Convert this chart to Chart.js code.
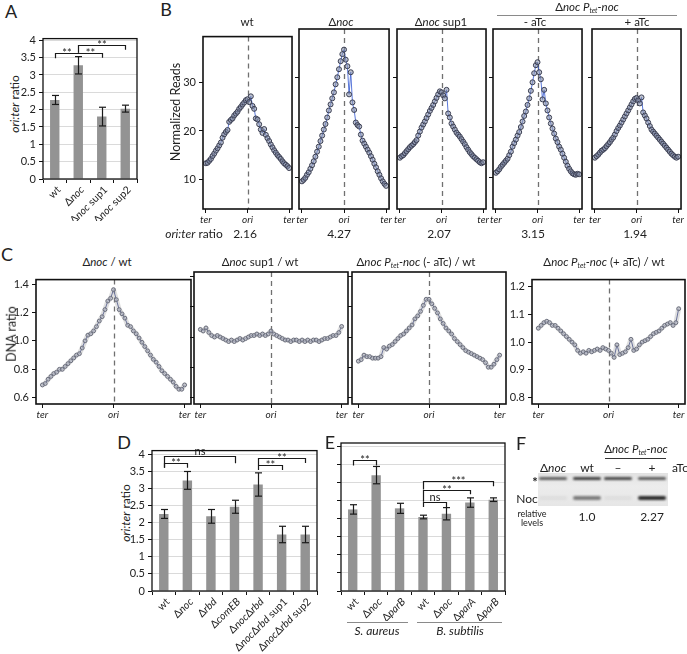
<!DOCTYPE html>
<html>
<head>
<meta charset="utf-8">
<script src="https://cdn.jsdelivr.net/npm/chart.js@4.4.1/dist/chart.umd.min.js"></script>
<style>
  body { margin: 0; background: #fff; }
  #fig { position: relative; width: 687px; height: 654px; overflow: hidden; font-family: Lato, 'Liberation Sans', Arial, sans-serif; color: #222; }
  #fig canvas { position: absolute; }
  .lbl { position: absolute; white-space: nowrap; line-height: 1; }
  .rule { position: absolute; height: 0; border-top: 1px solid #8a8a8a; }
  .band { position: absolute; border-radius: 2px; filter: blur(0.8px); }
  sub { font-size: 0.6em; vertical-align: -0.3em; }
</style>
</head>
<body>
<div id="fig"></div>
<script>
const FONT = "Lato, 'Liberation Sans', Arial, sans-serif";

// posicoes ao longo do cromossomo (ter -> ori -> ter)
const binPos = [0, 2, 4, 6, 8, 10, 12, 14, 16, 18, 20, 22, 24, 26, 28, 30, 32, 34, 36, 38, 40, 42, 44, 46, 48, 50,
    52, 54, 56, 58, 60, 62, 64, 66, 68, 70, 72, 74, 76, 78, 80, 82, 84, 86, 88, 90, 92, 94, 96, 98, 100];
const posTicks = [0, 50, 100];
const posTickText = ['ter', 'ori', 'ter'];

// painel B
const readsWt = [13.3, 13.4, 13.8, 14.2, 14.8, 15.3, 15.9, 16.4, 17.0, 17.6, 18.6, 19.3, 19.8, 20.2, 21.9, 22.3, 22.6, 23.2, 23.6, 24.0,
    24.6, 25.0, 25.5, 25.9, 26.4, 26.6, 26.0, 27.2, 25.2, 24.6, 22.6, 22.4, 21.4, 20.3, 19.6, 20.4, 19.2, 18.5, 17.9, 17.2,
    16.6, 16.0, 15.5, 15.0, 14.6, 14.2, 13.7, 13.3, 13.0, 12.7, 12.3];
const readsNoc = [9.3, 9.6, 10.0, 10.6, 11.1, 11.8, 12.5, 13.3, 14.2, 15.2, 16.2, 17.3, 18.4, 19.6, 20.7, 22.0, 23.4, 24.6, 25.8, 27.0,
    28.6, 30.0, 31.6, 33.2, 34.6, 35.5, 33.5, 32.2, 26.6, 31.0, 25.0, 23.5, 21.0, 20.5, 20.2, 18.6, 17.4, 16.8, 16.2, 15.6,
    15.0, 14.3, 13.6, 12.8, 12.1, 11.3, 10.6, 9.9, 9.3, 8.8, 8.4];
const readsSup1 = [14.0, 14.3, 14.5, 14.9, 15.3, 15.7, 16.1, 16.4, 16.7, 17.1, 17.5, 18.4, 19.2, 20.0, 20.6, 21.2, 21.9, 22.6, 23.3, 23.9,
    24.5, 25.2, 25.9, 26.6, 27.2, 27.0, 26.4, 25.8, 27.5, 22.8, 22.0, 20.8, 20.2, 19.6, 19.0, 18.6, 18.2, 17.7, 17.2, 16.7,
    16.1, 15.6, 15.1, 14.7, 14.3, 14.0, 13.7, 13.4, 13.1, 12.9, 13.1];
const readsMinusATc = [11.0, 11.3, 11.7, 12.2, 12.6, 13.0, 13.4, 13.8, 14.5, 15.2, 16.2, 16.9, 17.6, 18.4, 19.1, 20.1, 21.2, 22.3, 23.2, 24.5,
    25.8, 27.3, 29.0, 30.8, 32.4, 33.0, 31.0, 29.6, 25.6, 27.5, 24.8, 23.4, 22.0, 20.8, 19.8, 18.8, 17.8, 17.1, 16.2, 15.6,
    14.8, 14.0, 13.2, 12.4, 11.8, 11.3, 10.9, 10.7, 10.6, 10.8, 10.7];
const readsPlusATc = [14.0, 14.3, 14.6, 15.0, 15.4, 15.6, 15.9, 16.3, 16.7, 17.1, 17.6, 18.0, 18.6, 19.3, 19.9, 20.4, 21.0, 21.6, 22.2, 22.8,
    23.4, 24.0, 24.6, 25.2, 25.7, 25.9, 25.4, 24.8, 26.0, 23.0, 22.4, 21.8, 21.0, 20.3, 19.6, 19.2, 18.8, 18.4, 18.0, 17.6,
    17.2, 16.8, 16.4, 16.0, 15.6, 15.2, 14.8, 14.5, 14.2, 14.0, 14.2];
const readsTicks = [10, 20, 30];
const readsTitles = ['wt', 'Δ<i>noc</i>', 'Δ<i>noc</i> sup1', '- aTc', '+ aTc'];
const oriTerRatios = ['2.16', '4.27', '2.07', '3.15', '1.94'];

// painel C
const ratioNocWt = [0.69, 0.70, 0.73, 0.75, 0.77, 0.78, 0.80, 0.80, 0.82, 0.84, 0.86, 0.88, 0.90, 0.91, 0.95, 1.00, 1.04, 1.05, 1.07, 1.10,
    1.14, 1.17, 1.22, 1.28, 1.30, 1.36, 1.29, 1.22, 1.19, 1.16, 1.11, 1.10, 1.07, 1.05, 1.02, 0.99, 0.96, 0.93, 0.90, 0.87,
    0.85, 0.82, 0.79, 0.77, 0.75, 0.73, 0.71, 0.68, 0.66, 0.66, 0.69];
const ratioSup1Wt = [1.05, 1.04, 1.06, 1.03, 1.01, 1.00, 1.01, 1.00, 0.99, 0.98, 0.97, 0.98, 0.97, 0.98, 0.99, 0.98, 0.99, 1.00, 1.01, 1.01,
    1.02, 1.01, 1.02, 1.01, 1.02, 1.04, 1.02, 1.01, 1.00, 0.99, 0.98, 0.98, 0.97, 0.98, 0.98, 0.97, 0.98, 0.97, 0.98, 0.97,
    0.98, 0.98, 0.97, 0.98, 0.99, 0.99, 1.00, 1.01, 1.01, 1.03, 1.07];
const ratioMinusATcWt = [0.84, 0.85, 0.88, 0.87, 0.87, 0.86, 0.86, 0.86, 0.87, 0.93, 0.92, 0.94, 0.95, 0.97, 0.99, 1.01, 1.02, 1.04, 1.06, 1.08,
    1.12, 1.14, 1.17, 1.21, 1.25, 1.25, 1.22, 1.19, 1.16, 1.12, 1.09, 1.06, 1.04, 1.02, 0.99, 0.97, 0.95, 0.93, 0.91, 0.90,
    0.89, 0.88, 0.87, 0.86, 0.85, 0.83, 0.80, 0.80, 0.82, 0.85, 0.88];
const ratioPlusATcWt = [1.05, 1.06, 1.07, 1.075, 1.07, 1.06, 1.06, 1.05, 1.04, 1.03, 1.02, 1.01, 1.00, 0.99, 0.97, 0.96, 0.965, 0.96, 0.97, 0.965,
    0.97, 0.975, 0.97, 0.98, 0.975, 0.97, 0.96, 0.945, 0.99, 0.955, 0.96, 0.965, 0.98, 1.01, 0.97, 0.975, 0.99, 1.00, 1.005, 1.01,
    1.02, 1.03, 1.035, 1.04, 1.05, 1.06, 1.065, 1.07, 1.06, 1.07, 1.12];
const dnaTicks = [0.6, 0.8, 1.0, 1.2, 1.4];
const dnaTicksPlus = [0.8, 0.9, 1.0, 1.1, 1.2];
const dnaTitles = ['Δ<i>noc</i> / wt', 'Δ<i>noc</i> sup1 / wt',
    'Δ<i>noc P<sub>tet</sub>-noc</i> (- aTc) / wt', 'Δ<i>noc P<sub>tet</sub>-noc</i> (+ aTc) / wt'];

// paineis A, D, E (barras)  _texto_ = italico
const barTicks = [0, 0.5, 1, 1.5, 2, 2.5, 3, 3.5, 4];
const catsA = ['wt', 'Δ_noc_', 'Δ_noc_ sup1', 'Δ_noc_ sup2'];
const ratioA = [2.28, 3.28, 1.80, 2.03];
const errA = [0.13, 0.25, 0.27, 0.10];
const sigA = [[0, 1, 3.64, 3.48, 3.64, '**'], [1, 2, 3.64, 3.64, 3.5, '**'], [1, 3, 3.86, 3.64, 3.73, '**']];

const catsD = ['wt', 'Δ_noc_', 'Δ_rbd_', 'Δ_comEB_', 'Δ_noc_Δ_rbd_', 'Δ_noc_Δ_rbd_ sup1', 'Δ_noc_Δ_rbd_ sup2'];
const ratioD = [2.25, 3.23, 2.18, 2.46, 3.11, 1.65, 1.65];
const errD = [0.13, 0.26, 0.20, 0.19, 0.34, 0.24, 0.24];
const sigD = [[0, 1, 3.74, 3.6, 3.6, '**'], [0, 3, 3.94, 3.6, 3.73, 'ns'], [4, 5, 3.67, 3.53, 3.53, '**'], [4, 6, 3.88, 3.67, 3.74, '**']];

const catsE = ['wt', 'Δ_noc_', 'Δ_parB_', 'wt', 'Δ_noc_', 'Δ_parA_', 'Δ_parB_'];
const ratioE = [2.26, 3.21, 2.29, 2.05, 2.14, 2.45, 2.53];
const errE = [0.13, 0.24, 0.14, 0.05, 0.17, 0.13, 0.05];
const sigE = [[0, 1, 3.62, 3.48, 3.48, '**'], [3, 4, 2.47, 2.33, 2.33, 'ns'], [3, 5, 2.81, 2.47, 2.68, '**'], [3, 6, 3.04, 2.81, 2.9, '***']];

// painel F (western)
const blotLanes = ['Δ<i>noc</i>', 'wt', '–', '+'];
const blotStar = [0.72, 0.9, 0.85, 0.75];
const blotNoc = [0.05, 0.55, 0.05, 0.95];
const relLevels = ['', '1.0', '', '2.27'];

Chart.defaults.font.family = FONT;
Chart.defaults.color = '#222';
const fig = document.getElementById('fig');

function put(html, x, y, size, extra) {
    const d = document.createElement('div');
    d.className = 'lbl';
    d.innerHTML = html;
    d.style.left = x + 'px';
    d.style.top = y + 'px';
    d.style.fontSize = size + 'px';
    d.style.transform = 'translate(-50%, -50%)' + (extra || '');
    fig.appendChild(d);
    return d;
}

function rule(x, y, w, color) {
    const d = document.createElement('div');
    d.className = 'rule';
    d.style.left = x + 'px';
    d.style.top = y + 'px';
    d.style.width = w + 'px';
    if (color) d.style.borderTopColor = color;
    fig.appendChild(d);
}

function mkCanvas(box, pad) {
    const c = document.createElement('canvas');
    c.width = box[2] + pad[0] + pad[2];
    c.height = box[3] + pad[1] + pad[3];
    c.style.left = (box[0] - pad[0]) + 'px';
    c.style.top = (box[1] - pad[1]) + 'px';
    fig.appendChild(c);
    return c;
}

function framePlugin(ori, lw) {
    return {
        id: 'frame',
        beforeDatasetsDraw(chart) {
            if (ori == null) return;
            const { ctx, chartArea: a } = chart;
            const x = Math.round(chart.scales.x.getPixelForValue(ori)) + 0.5;
            ctx.save();
            ctx.strokeStyle = '#707070';
            ctx.lineWidth = 1.3;
            ctx.setLineDash([5, 4]);
            ctx.beginPath();
            ctx.moveTo(x, a.top);
            ctx.lineTo(x, a.bottom);
            ctx.stroke();
            ctx.restore();
        },
        afterDraw(chart) {
            const { ctx, chartArea: a } = chart;
            ctx.save();
            ctx.strokeStyle = '#111';
            ctx.lineWidth = lw;
            ctx.strokeRect(a.left, a.top, a.right - a.left, a.bottom - a.top);
            ctx.restore();
        }
    };
}

function drawRich(ctx, str, x, y, size) {
    const parts = str.split('_');
    const fontOf = k => (k % 2 ? 'italic ' : '') + size + 'px ' + FONT;
    let w = 0;
    parts.forEach((p, k) => { ctx.font = fontOf(k); w += ctx.measureText(p).width; });
    ctx.save();
    ctx.translate(x, y);
    ctx.rotate(-Math.PI / 4);
    ctx.textAlign = 'left';
    ctx.textBaseline = 'middle';
    ctx.fillStyle = '#222';
    let cx = -w;
    parts.forEach((p, k) => {
        ctx.font = fontOf(k);
        ctx.fillText(p, cx, 0);
        cx += ctx.measureText(p).width;
    });
    ctx.restore();
}

function barPlugin(cats, errs, sig) {
    return {
        id: 'barExtras',
        afterDatasetsDraw(chart) {
            const { ctx, chartArea: a } = chart;
            const x = chart.scales.x, y = chart.scales.y;
            const vals = chart.data.datasets[0].data;
            ctx.save();
            ctx.strokeStyle = '#1a1a1a';
            ctx.lineWidth = 1.2;
            const seg = (x1, y1, x2, y2) => { ctx.beginPath(); ctx.moveTo(x1, y1); ctx.lineTo(x2, y2); ctx.stroke(); };
            errs.forEach((e, i) => {
                const px = Math.round(x.getPixelForValue(i)) + 0.5;
                const lo = y.getPixelForValue(vals[i] - e), hi = y.getPixelForValue(vals[i] + e);
                seg(px, lo, px, hi);
                seg(px - 3.5, lo, px + 3.5, lo);
                seg(px - 3.5, hi, px + 3.5, hi);
            });
            ctx.fillStyle = '#222';
            ctx.textAlign = 'center';
            ctx.textBaseline = 'alphabetic';
            sig.forEach(([i, j, top, fi, fj, txt]) => {
                const xi = Math.round(x.getPixelForValue(i)) + 0.5, xj = Math.round(x.getPixelForValue(j)) + 0.5;
                const yt = Math.round(y.getPixelForValue(top)) + 0.5;
                ctx.beginPath();
                ctx.moveTo(xi, y.getPixelForValue(fi));
                ctx.lineTo(xi, yt);
                ctx.lineTo(xj, yt);
                ctx.lineTo(xj, y.getPixelForValue(fj));
                ctx.stroke();
                ctx.font = '11px ' + FONT;
                ctx.fillText(txt, (xi + xj) / 2, yt + (txt.includes('*') ? 3.5 : -1.5));
            });
            cats.forEach((c, i) => drawRich(ctx, c, x.getPixelForValue(i) + 4, a.bottom + 9, 10.5));
            ctx.restore();
        }
    };
}

function barChart(box, pad, yMax, cats, vals, errs, sig, showY) {
    const cv = mkCanvas(box, pad);
    return new Chart(cv, {
        type: 'bar',
        data: {
            labels: cats.map(c => c.replace(/_/g, '')),
            datasets: [{ data: vals, backgroundColor: '#939393', barPercentage: 0.4, categoryPercentage: 1 }]
        },
        options: {
            responsive: false, animation: false, events: [],
            layout: { autoPadding: false, padding: { left: 0, top: pad[1], right: pad[2], bottom: 0 } },
            plugins: { legend: { display: false }, tooltip: { enabled: false } },
            scales: {
                x: {
                    ticks: { display: false },
                    grid: { offset: true, drawOnChartArea: false, tickLength: 4, tickColor: '#111' },
                    border: { display: false },
                    afterFit: s => { s.height = pad[3]; }
                },
                y: {
                    min: 0, max: yMax,
                    afterBuildTicks: s => { s.ticks = barTicks.map(v => ({ value: v })); },
                    ticks: { display: showY, font: { size: 11 }, padding: 3, callback: v => String(v) },
                    grid: { color: '#dadada', tickColor: '#111', tickLength: 4 },
                    border: { display: false },
                    afterFit: s => { s.width = pad[0]; }
                }
            }
        },
        plugins: [barPlugin(cats, errs, sig), framePlugin(null, 1.3)]
    });
}

function profileChart(box, pad, values, yMin, yMax, yTicks, digits, showY, look) {
    const cv = mkCanvas(box, pad);
    const pts = values.map((v, i) => ({ x: binPos[i], y: v }));
    const datasets = [];
    if (look.band) {
        datasets.push({ data: pts, showLine: true, borderColor: 'rgba(150,150,150,0.3)', borderWidth: look.band,
            borderJoinStyle: 'round', borderCapStyle: 'round', pointRadius: 0 });
    }
    datasets.push({
        data: pts, showLine: true, borderColor: look.line, borderWidth: 1,
        pointRadius: look.r, pointBorderWidth: 1, pointBorderColor: look.edge, pointBackgroundColor: look.fill
    });
    return new Chart(cv, {
        type: 'scatter',
        data: { datasets },
        options: {
            responsive: false, animation: false, events: [],
            layout: { autoPadding: false, padding: { left: 0, top: pad[1], right: pad[2], bottom: 0 } },
            plugins: { legend: { display: false }, tooltip: { enabled: false } },
            scales: {
                x: {
                    type: 'linear', min: look.xMin, max: look.xMax,
                    afterBuildTicks: s => { s.ticks = posTicks.map(v => ({ value: v })); },
                    ticks: { autoSkip: false, maxRotation: 0, padding: 1, font: { size: 10, style: 'italic' }, callback: (v, i) => posTickText[i] },
                    grid: { drawOnChartArea: false, tickLength: 4, tickColor: '#111' },
                    border: { display: false },
                    afterFit: s => { s.height = pad[3]; }
                },
                y: {
                    min: yMin, max: yMax,
                    afterBuildTicks: s => { s.ticks = yTicks.map(v => ({ value: v })); },
                    ticks: { display: showY, font: { size: 11 }, padding: 3, callback: v => v.toFixed(digits) },
                    grid: { drawOnChartArea: false, tickLength: 4, tickColor: '#111' },
                    border: { display: false },
                    afterFit: s => { s.width = pad[0]; }
                }
            }
        },
        plugins: [framePlugin(50, 1.6)]
    });
}

// ---- A ----
put('A', 11, 11, 18);
put('<i>ori:ter</i> ratio', 15, 104, 12, ' rotate(-90deg)');
barChart([43, 31, 94, 148], [30, 2, 4, 42], 4.05, catsA, ratioA, errA, sigA, true);

// ---- B ----
put('B', 166, 9, 18);
const lookB = { r: 2.5, edge: '#3a3e52', fill: 'rgba(135,143,168,0.55)', line: 'rgba(60,95,210,0.85)', xMin: -3.5, xMax: 103.5 };
const bFrames = [[203, 29, 91, 180], [299, 29, 92, 180], [397, 29, 91, 180], [493, 29, 91, 180], [592, 29, 91, 180]];
const bSeries = [readsWt, readsNoc, readsSup1, readsMinusATc, readsPlusATc];
const bCenters = [247, 341, 441, 535, 637];
bFrames.forEach((f, k) => {
    profileChart(f, [k === 0 ? 40 : 6, 2, 2, 16], bSeries[k], 3.8, 39.6, readsTicks, 0, k === 0, lookB);
    put(readsTitles[k], bCenters[k], 22, 11.5);
    put(oriTerRatios[k], bCenters[k] - 2, 234, 12);
});
put('Δ<i>noc P<sub>tet</sub>-noc</i>', 587, 7, 11.5);
rule(497, 15, 180);
put('Normalized Reads', 176, 112, 12.5, ' rotate(-90deg)');
put('<i>ori:ter</i> ratio', 194, 234, 12);

// ---- C ----
put('C', 7, 254, 18);
const lookC = { r: 1.9, edge: '#585d72', fill: 'rgba(205,208,220,0.6)', line: '#56629c', band: 5, xMin: -4.5, xMax: 104.5 };
profileChart([36, 272, 155, 132], [36, 2, 2, 16], ratioNocWt, 0.556, 1.431, dnaTicks, 1, true, lookC);
profileChart([194, 272, 154, 132], [6, 2, 2, 16], ratioSup1Wt, 0.556, 1.431, dnaTicks, 1, false, lookC);
profileChart([352, 272, 154, 132], [6, 2, 2, 16], ratioMinusATcWt, 0.556, 1.431, dnaTicks, 1, false, lookC);
profileChart([532, 272, 153, 132], [30, 2, 2, 16], ratioPlusATcWt, 0.777, 1.225, dnaTicksPlus, 1, true, lookC);
[107, 260, 416, 604].forEach((cx, k) => put(dnaTitles[k], cx, 262, 11.5));
put('DNA ratio', 12, 334, 12.5, ' rotate(-90deg)');

// ---- D ----
put('D', 124, 442, 18);
put('<i>ori:ter</i> ratio', 126, 513, 12, ' rotate(-90deg)');
barChart([152, 443, 165, 148], [28, 2, 4, 63], 4.1, catsD, ratioD, errD, sigD, true);

// ---- E ----
put('E', 330, 442, 18);
barChart([341, 443, 164, 148], [6, 2, 4, 30], 4.1, catsE, ratioE, errE, sigE, false);
rule(347, 622, 61);
rule(417, 622, 85);
put('<i>S. aureus</i>', 377, 631, 12);
put('<i>B. subtilis</i>', 460, 631, 12);

// ---- F ----
put('F', 521, 443, 18);
put('Δ<i>noc P<sub>tet</sub>-noc</i>', 636, 449, 11.5);
rule(605, 458, 61, '#333');
const laneX = [553, 587, 618, 652];
const blot = document.createElement('div');
blot.style.cssText = 'position:absolute;left:538px;top:473px;width:130px;height:33px;background:linear-gradient(#e2e2e2,#ececec 40%,#e6e6e6);';
fig.appendChild(blot);
laneX.forEach((lx, k) => {
    put(blotLanes[k], lx, 468, 12);
    const b1 = document.createElement('div');
    b1.className = 'band';
    b1.style.cssText += `left:${lx - 538 - 14}px;top:4px;width:28px;height:3px;background:rgba(45,45,45,${blotStar[k]});`;
    blot.appendChild(b1);
    const b2 = document.createElement('div');
    b2.className = 'band';
    b2.style.cssText += `left:${lx - 538 - 14}px;top:23px;width:28px;height:4px;background:rgba(35,35,35,${blotNoc[k]});`;
    blot.appendChild(b2);
    if (relLevels[k]) put(relLevels[k], lx, 517, 12);
});
put('aTc', 680, 468, 12);
put('<b>*</b>', 535, 482, 13);
put('Noc', 527, 499, 12);
put('relative', 532, 513, 9);
put('levels', 532, 522, 9);
</script>
</body>
</html>
